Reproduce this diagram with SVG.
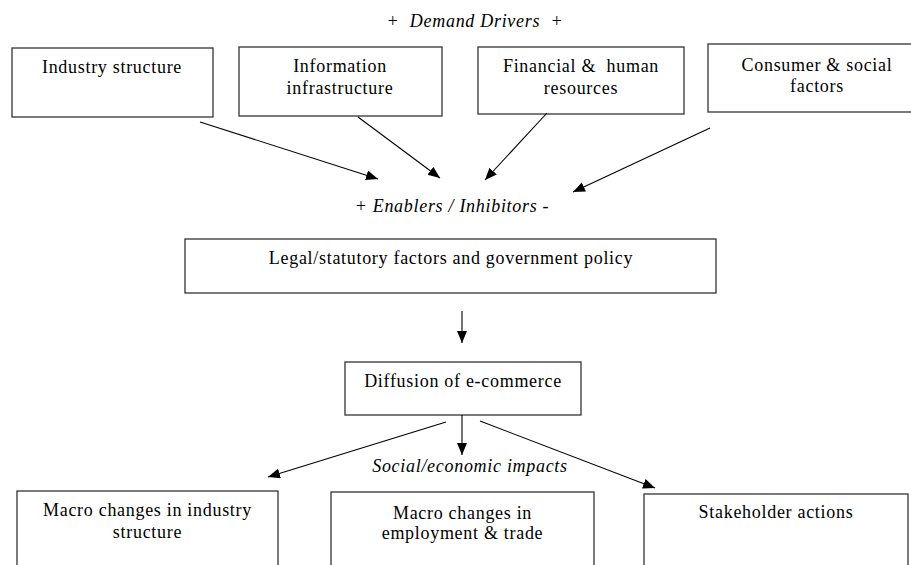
<svg xmlns="http://www.w3.org/2000/svg" width="911" height="565" viewBox="0 0 911 565">
<style>
.box{fill:#fff;stroke:#333;stroke-width:1.3}
.t{font-family:"Liberation Serif","Times New Roman",serif;font-size:18px;letter-spacing:0.7px;fill:#000;text-anchor:middle}
.i{font-style:italic}
.c{stroke:#000;stroke-width:1.1;fill:none;marker-end:url(#ah)}
</style>
<defs>
<marker id="ah" markerUnits="userSpaceOnUse" markerWidth="13" markerHeight="11" refX="12" refY="5" orient="auto">
<path d="M0,0 L12,5 L0,10 z" fill="#000"/>
</marker>
</defs>
<rect width="911" height="565" fill="#fff"/>
<text class="t i" x="475" y="27" xml:space="preserve">+  Demand Drivers  +</text>
<g id="n1"><rect class="box" x="12" y="48" width="201" height="69"/><text class="t" x="112" y="73">Industry structure</text></g>
<g id="n2"><rect class="box" x="239" y="47" width="203" height="69"/><text class="t" x="340" y="72">Information</text><text class="t" x="340" y="94">infrastructure</text></g>
<g id="n3"><rect class="box" x="478" y="47" width="206" height="67"/><text class="t" x="581" y="72" xml:space="preserve">Financial &amp;  human</text><text class="t" x="581" y="94">resources</text></g>
<g id="n4"><rect class="box" x="708" y="44" width="220" height="68"/><text class="t" x="817" y="71">Consumer &amp; social</text><text class="t" x="817" y="92">factors</text></g>
<text class="t i" x="452" y="212">+ Enablers / Inhibitors -</text>
<g id="n5"><rect class="box" x="185" y="239" width="531" height="54"/><text class="t" x="451" y="264">Legal/statutory factors and government policy</text></g>
<g id="n6"><rect class="box" x="345" y="362" width="236" height="53"/><text class="t" x="463" y="387">Diffusion of e-commerce</text></g>
<text class="t i" x="470" y="472">Social/economic impacts</text>
<g id="n7"><rect class="box" x="17" y="491" width="261" height="90"/><text class="t" x="147.5" y="516">Macro changes in industry</text><text class="t" x="147.5" y="538">structure</text></g>
<g id="n8"><rect class="box" x="331" y="492" width="263" height="90"/><text class="t" x="462.5" y="519">Macro changes in</text><text class="t" x="462.5" y="539">employment &amp; trade</text></g>
<g id="n9"><rect class="box" x="644" y="494" width="264" height="90"/><text class="t" x="776" y="518">Stakeholder actions</text></g>
<g id="connectors">
<line class="c" x1="200" y1="122" x2="378" y2="179"/>
<line class="c" x1="358" y1="117" x2="440" y2="178"/>
<line class="c" x1="547" y1="113" x2="485" y2="180"/>
<line class="c" x1="710" y1="128" x2="573" y2="192"/>
<line class="c" x1="462" y1="311" x2="462" y2="343"/>
<line class="c" x1="462" y1="415" x2="462" y2="455"/>
<line class="c" x1="446" y1="422" x2="268" y2="477"/>
<line class="c" x1="480" y1="421" x2="655" y2="488"/>
</g>
</svg>
